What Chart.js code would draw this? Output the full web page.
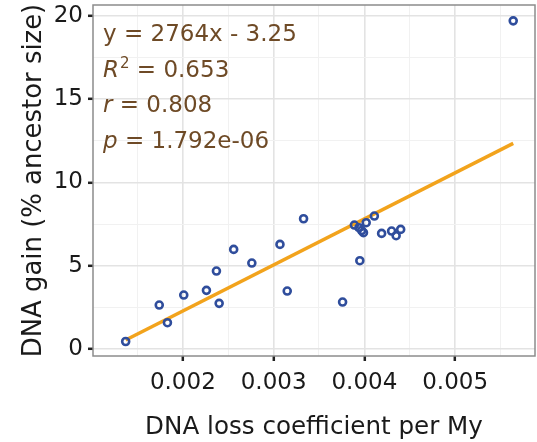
<!DOCTYPE html>
<html>
<head>
<meta charset="utf-8">
<script src="https://cdn.jsdelivr.net/npm/chart.js@4"></script>
<style>
  html, body { margin: 0; padding: 0; background: #fff; }
  #wrap { width: 537px; height: 442px; }
</style>
</head>
<body>
<div id="wrap"><canvas id="c" width="537" height="442"></canvas></div>
<script>
// DNA loss coefficient (x) vs DNA gain (y)
const lossX = [0.00137, 0.00174, 0.00183, 0.00201, 0.00226, 0.00237, 0.00240, 0.00256, 0.00276,
    0.00307, 0.00315, 0.00333, 0.00376, 0.00395, 0.00389, 0.00394, 0.00397, 0.00399, 0.00402,
    0.00411, 0.00419, 0.00430, 0.00435, 0.00440, 0.00564];
const gainY = [0.45, 2.64, 1.58, 3.24, 3.52, 4.68, 2.74, 5.98, 5.16,
    6.28, 3.48, 7.82, 2.82, 5.30, 7.44, 7.28, 7.11, 6.98, 7.58,
    7.98, 6.94, 7.08, 6.80, 7.18, 19.70];

// fitted line y = 2764x - 3.25, end points at the data range
const fitX = [0.00137, 0.00564];
const fitY = [0.54, 12.34];

const xTicks = [0.0015, 0.002, 0.0025, 0.003, 0.0035, 0.004, 0.0045, 0.005, 0.0055];
const xMajor = [0.002, 0.003, 0.004, 0.005];
const yTicks = [0, 2.5, 5, 7.5, 10, 12.5, 15, 17.5, 20];
const yMajor = [0, 5, 10, 15, 20];

const statLines = ["y = 2764x - 3.25", "R2 = 0.653", "r = 0.808", "p = 1.792e-06"];

const FONT = "'DejaVu Sans', sans-serif";
const BROWN = "#6e4a26";
const INK = "#1a1a1a";

const isMajorX = v => xMajor.some(m => Math.abs(m - v) < 1e-9);
const isMajorY = v => yMajor.some(m => Math.abs(m - v) < 1e-9);

// panel border + stats text
const panelPlugin = {
    id: "panel",
    afterDraw(chart) {
        const ctx = chart.ctx, a = chart.chartArea;
        ctx.save();
        ctx.strokeStyle = "#8c8c8c";
        ctx.lineWidth = 1.5;
        ctx.strokeRect(a.left, a.top, a.right - a.left, a.bottom - a.top);

        ctx.fillStyle = BROWN;
        ctx.textBaseline = "alphabetic";
        const x0 = a.left + 10;
        let y = a.top + 36;
        const big = "23px " + FONT, itl = "italic 23px " + FONT, sup = "15px " + FONT;
        // line 1
        ctx.font = big;
        ctx.fillText(statLines[0], x0, y);
        // line 2 : R^2
        y += 35.5;
        let x = x0;
        ctx.font = itl; ctx.fillText("R", x, y); x += ctx.measureText("R").width + 1;
        ctx.font = sup; ctx.fillText("2", x, y - 9); x += ctx.measureText("2").width;
        ctx.font = big; ctx.fillText(statLines[1].slice(2), x, y);
        // line 3 : r
        y += 35.5;
        x = x0;
        ctx.font = itl; ctx.fillText("r", x, y); x += ctx.measureText("r").width;
        ctx.font = big; ctx.fillText(statLines[2].slice(1), x, y);
        // line 4 : p
        y += 35.5;
        x = x0;
        ctx.font = itl; ctx.fillText("p", x, y); x += ctx.measureText("p").width;
        ctx.font = big; ctx.fillText(statLines[3].slice(1), x, y);
        ctx.restore();
    }
};

function noPad(s) {
    s.paddingTop = 0; s.paddingBottom = 0; s.paddingLeft = 0; s.paddingRight = 0;
}

new Chart(document.getElementById("c"), {
    type: "scatter",
    data: {
        datasets: [{
            label: "fit",
            type: "line",
            data: fitX.map((v, i) => ({ x: v, y: fitY[i] })),
            borderColor: "#f2a31c",
            borderWidth: 3.5,
            pointRadius: 0,
            fill: false,
            order: 2
        }, {
            label: "species",
            data: lossX.map((v, i) => ({ x: v, y: gainY[i] })),
            pointStyle: "circle",
            pointRadius: 3.5,
            pointBorderWidth: 2.6,
            pointBackgroundColor: "rgba(255,255,255,0)",
            pointBorderColor: "#2f4d9c",
            order: 1
        }]
    },
    options: {
        responsive: false,
        animation: false,
        layout: { autoPadding: false, padding: { top: 5, right: 2, left: 0, bottom: 0 } },
        plugins: { legend: { display: false }, tooltip: { enabled: false } },
        scales: {
            x: {
                type: "linear",
                min: 0.00101,
                max: 0.00588,
                afterBuildTicks: s => { s.ticks = xTicks.map(v => ({ value: v })); },
                afterFit: s => { s.height = 86; noPad(s); },
                grid: {
                    color: c => isMajorX(c.tick.value) ? "#e3e3e3" : "#f1f1f1",
                    lineWidth: c => isMajorX(c.tick.value) ? 1.6 : 1,
                    tickColor: c => isMajorX(c.tick.value) ? "#222" : "rgba(0,0,0,0)",
                    tickLength: 5,
                    tickWidth: 2.5
                },
                border: { display: false },
                ticks: {
                    autoSkip: false,
                    maxRotation: 0,
                    padding: 8,
                    color: INK,
                    font: { family: FONT, size: 23 },
                    callback: v => isMajorX(v) ? v.toFixed(3) : ""
                },
                title: {
                    display: true,
                    text: "DNA loss coefficient per My",
                    color: INK,
                    font: { family: FONT, size: 24.6 },
                    padding: { top: 0, bottom: 0 }
                }
            },
            y: {
                type: "linear",
                min: -0.42,
                max: 20.65,
                afterBuildTicks: s => { s.ticks = yTicks.map(v => ({ value: v })); },
                afterFit: s => { s.width = 93; noPad(s); },
                grid: {
                    color: c => isMajorY(c.tick.value) ? "#e3e3e3" : "#f1f1f1",
                    lineWidth: c => isMajorY(c.tick.value) ? 1.6 : 1,
                    tickColor: c => isMajorY(c.tick.value) ? "#222" : "rgba(0,0,0,0)",
                    tickLength: 5,
                    tickWidth: 2.5
                },
                border: { display: false },
                ticks: {
                    autoSkip: false,
                    padding: 5,
                    color: INK,
                    font: { family: FONT, size: 23 },
                    callback: v => isMajorY(v) ? String(v) : ""
                },
                title: {
                    display: true,
                    text: "DNA gain (% ancestor size)",
                    color: INK,
                    font: { family: FONT, size: 25.9 },
                    padding: { top: 19, bottom: 0 }
                }
            }
        }
    },
    plugins: [panelPlugin]
});
</script>
</body>
</html>
